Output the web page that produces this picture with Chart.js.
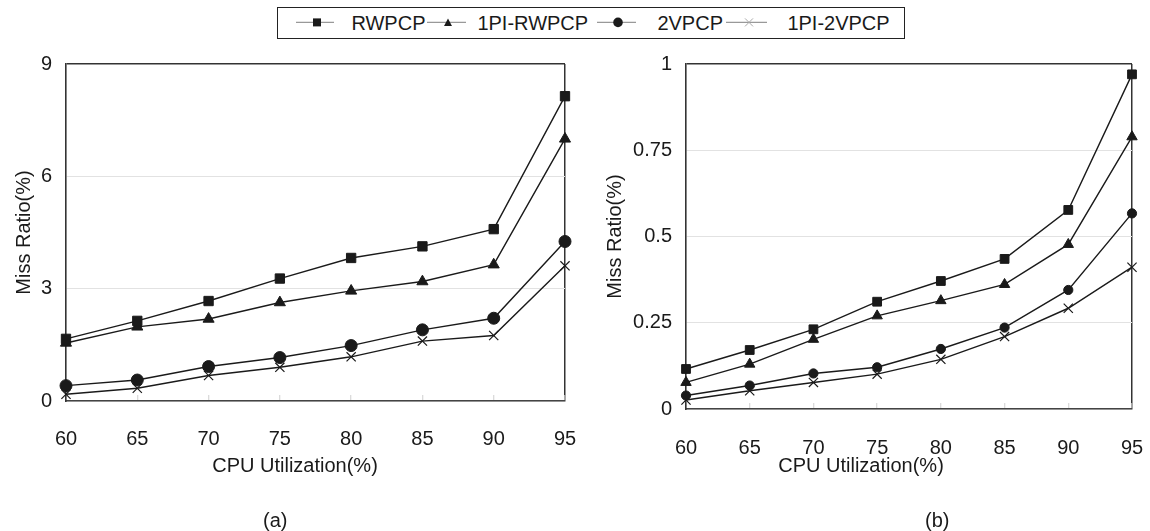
<!DOCTYPE html>
<html>
<head>
<meta charset="utf-8">
<script src="https://cdn.jsdelivr.net/npm/chart.js@4.4.1/dist/chart.umd.min.js"></script>
<style>
  html, body { margin: 0; padding: 0; background: #fff; }
  body { width: 1150px; height: 531px; position: relative; overflow: hidden;
         font-family: "Liberation Sans", Arial, sans-serif; color: #1a1a1a; }
  canvas { position: absolute; top: 0; }
  #legend { position: absolute; left: 277px; top: 7px; width: 626px; height: 30px;
            border: 1.6px solid #222; }
  .lt { position: absolute; font-size: 20px; line-height: 24px; top: 3px; white-space: nowrap; }
  .lm { position: absolute; top: 0; }
  .cap { position: absolute; font-size: 20px; line-height: 24px; top: 508px; }
</style>
</head>
<body>
<div id="legend"></div>
<canvas id="ca" width="580" height="531" style="left:0px"></canvas>
<canvas id="cb" width="570" height="531" style="left:580px"></canvas>
<div class="cap" id="capA">(a)</div>
<div class="cap" id="capB">(b)</div>
<script>
// ---------- data ----------
const categories = ['60', '65', '70', '75', '80', '85', '90', '95'];
const seriesNames = ['RWPCP', '1PI-RWPCP', '2VPCP', '1PI-2VPCP'];

// panel (a)
const rwpcpA   = [1.66, 2.14, 2.67, 3.27, 3.82, 4.13, 4.59, 8.14];
const piRwpcpA = [1.55, 1.98, 2.19, 2.63, 2.94, 3.19, 3.64, 7.00];
const vpcpA    = [0.41, 0.56, 0.92, 1.16, 1.48, 1.90, 2.21, 4.26];
const piVpcpA  = [0.18, 0.34, 0.68, 0.90, 1.18, 1.60, 1.75, 3.61];

// panel (b)
const rwpcpB   = [0.116, 0.171, 0.231, 0.311, 0.371, 0.435, 0.577, 0.970];
const piRwpcpB = [0.077, 0.130, 0.202, 0.270, 0.314, 0.361, 0.477, 0.789];
const vpcpB    = [0.039, 0.068, 0.103, 0.121, 0.174, 0.236, 0.345, 0.567];
const piVpcpB  = [0.026, 0.053, 0.077, 0.101, 0.144, 0.210, 0.292, 0.411];

const yTickLabelsA = ['0', '3', '6', '9'];
const yTickLabelsB = ['0', '0.25', '0.5', '0.75', '1'];

const xTitle = 'CPU Utilization(%)';
const yTitle = 'Miss Ratio(%)';

// ---------- styling ----------
Chart.defaults.font.family = '"Liberation Sans", Arial, sans-serif';
Chart.defaults.color = '#1a1a1a';

const INK = '#1a1a1a';
const pointStyles = ['rect', 'triangle', 'circle', 'crossRot'];

function makeDatasets(arrays, radii) {
  return arrays.map((arr, i) => ({
    label: seriesNames[i],
    data: arr,
    borderColor: INK,
    backgroundColor: INK,
    borderWidth: 1.4,
    pointStyle: pointStyles[i],
    pointRadius: radii[i],
    pointBorderWidth: i === 3 ? 1.2 : 1,
    pointBackgroundColor: INK,
    pointBorderColor: INK,
    tension: 0,
    clip: false
  }));
}

function makeChart(id, arrays, radii, cfg) {
  const nCat = categories.length;
  return new Chart(document.getElementById(id), {
    type: 'line',
    data: { labels: categories, datasets: makeDatasets(arrays, radii) },
    options: {
      responsive: false,
      animation: false,
      events: [],
      layout: { padding: { left: cfg.padL, right: cfg.padR, top: 64, bottom: 53 } },
      plugins: {
        legend: { display: false },
        tooltip: { enabled: false },
        title: {
          display: true, position: 'bottom', text: xTitle,
          font: { size: 20, weight: 'normal' }, color: INK,
          padding: { top: 0, bottom: 0 }
        }
      },
      scales: {
        x: {
          type: 'category',
          offset: false,
          grid: {
            drawTicks: true,
            tickLength: -6,
            tickColor: '#cfcfcf',
            tickWidth: 1,
            color: (c) => (c.index === nCat - 1 ? '#333' : 'rgba(0,0,0,0)'),
            lineWidth: 1.5
          },
          border: { display: true, color: '#444', width: 1.6 },
          ticks: { font: { size: 20 }, color: INK, padding: cfg.xPad + 6, maxRotation: 0, autoSkip: false },
          afterFit: (s) => { s.height = cfg.xH; s.paddingLeft = 0; s.paddingRight = 0; }
        },
        y: {
          min: 0, max: cfg.yMax,
          ticks: {
            stepSize: cfg.step, font: { size: 20 }, color: INK, padding: 14,
            callback: (v, i) => cfg.yLabels[i]
          },
          grid: {
            drawTicks: false,
            color: (c) => (c.tick && c.tick.value === cfg.yMax ? '#333' : '#e2e2e2'),
            lineWidth: (c) => (c.tick && c.tick.value === cfg.yMax ? 1.5 : 1)
          },
          border: { display: true, color: '#333', width: 1.6 },
          title: {
            display: true, text: yTitle, font: { size: 20 }, color: INK,
            padding: { top: cfg.yTitlePad, bottom: 0 }
          },
          afterFit: (s) => { s.width = cfg.yW; s.paddingTop = 0; s.paddingBottom = 0; }
        }
      }
    }
  });
}

makeChart('ca', [rwpcpA, piRwpcpA, vpcpA, piVpcpA], [6.6, 6.4, 6, 6.5], {
  padL: 25, padR: 15, xH: 53, xPad: 26, yMax: 9, step: 3, yLabels: yTickLabelsA,
  yW: 41, yTitlePad: -13
});
makeChart('cb', [rwpcpB, piRwpcpB, vpcpB, piVpcpB], [6.2, 6, 4.6, 6.5], {
  padL: 10, padR: 18, xH: 45, xPad: 27, yMax: 1, step: 0.25, yLabels: yTickLabelsB,
  yW: 96, yTitlePad: 13
});

// ---------- legend (HTML) ----------
const legend = document.getElementById('legend');
const LX = 278.6, LY = 8.6; // inner origin of legend box
const legendItems = [
  { l1: 297, l2: 335, m: 318, t: 352, mark: 'rect' },
  { l1: 428, l2: 467, m: 449, t: 478, mark: 'tri' },
  { l1: 598, l2: 637, m: 619, t: 658, mark: 'circle' },
  { l1: 727, l2: 768, m: 750, t: 788, mark: 'cross' }
];
const ns = 'http://www.w3.org/2000/svg';
legendItems.forEach((it, i) => {
  const svg = document.createElementNS(ns, 'svg');
  const w = it.l2 - it.l1 + 2;
  svg.setAttribute('width', w); svg.setAttribute('height', 30);
  svg.setAttribute('class', 'lm');
  svg.style.left = (it.l1 - LX) + 'px';
  const cy = 23 - LY, cx = it.m - it.l1;
  const line = document.createElementNS(ns, 'line');
  line.setAttribute('x1', 0); line.setAttribute('x2', w - 2);
  line.setAttribute('y1', cy); line.setAttribute('y2', cy);
  line.setAttribute('stroke', '#999'); line.setAttribute('stroke-width', 1.2);
  svg.appendChild(line);
  let m;
  if (it.mark === 'rect') {
    m = document.createElementNS(ns, 'rect');
    m.setAttribute('x', cx - 4); m.setAttribute('y', cy - 4);
    m.setAttribute('width', 8); m.setAttribute('height', 8); m.setAttribute('fill', INK);
  } else if (it.mark === 'tri') {
    m = document.createElementNS(ns, 'polygon');
    m.setAttribute('points', `${cx - 4},${cy + 3.5} ${cx + 4},${cy + 3.5} ${cx},${cy - 4}`);
    m.setAttribute('fill', INK);
  } else if (it.mark === 'circle') {
    m = document.createElementNS(ns, 'circle');
    m.setAttribute('cx', cx); m.setAttribute('cy', cy); m.setAttribute('r', 4.8);
    m.setAttribute('fill', INK);
  } else {
    m = document.createElementNS(ns, 'path');
    m.setAttribute('d', `M${cx - 4},${cy - 4}L${cx + 4},${cy + 4}M${cx - 4},${cy + 4}L${cx + 4},${cy - 4}`);
    m.setAttribute('stroke', '#aaa'); m.setAttribute('stroke-width', 1);
  }
  svg.appendChild(m);
  legend.appendChild(svg);
  const t = document.createElement('span');
  t.className = 'lt';
  t.textContent = seriesNames[i];
  t.style.left = (it.t - LX) + 'px';
  legend.appendChild(t);
});

// captions centered
function centerCap(id, cx) {
  const el = document.getElementById(id);
  el.style.left = (cx - el.offsetWidth / 2) + 'px';
}
centerCap('capA', 275);
centerCap('capB', 937);
</script>
</body>
</html>
